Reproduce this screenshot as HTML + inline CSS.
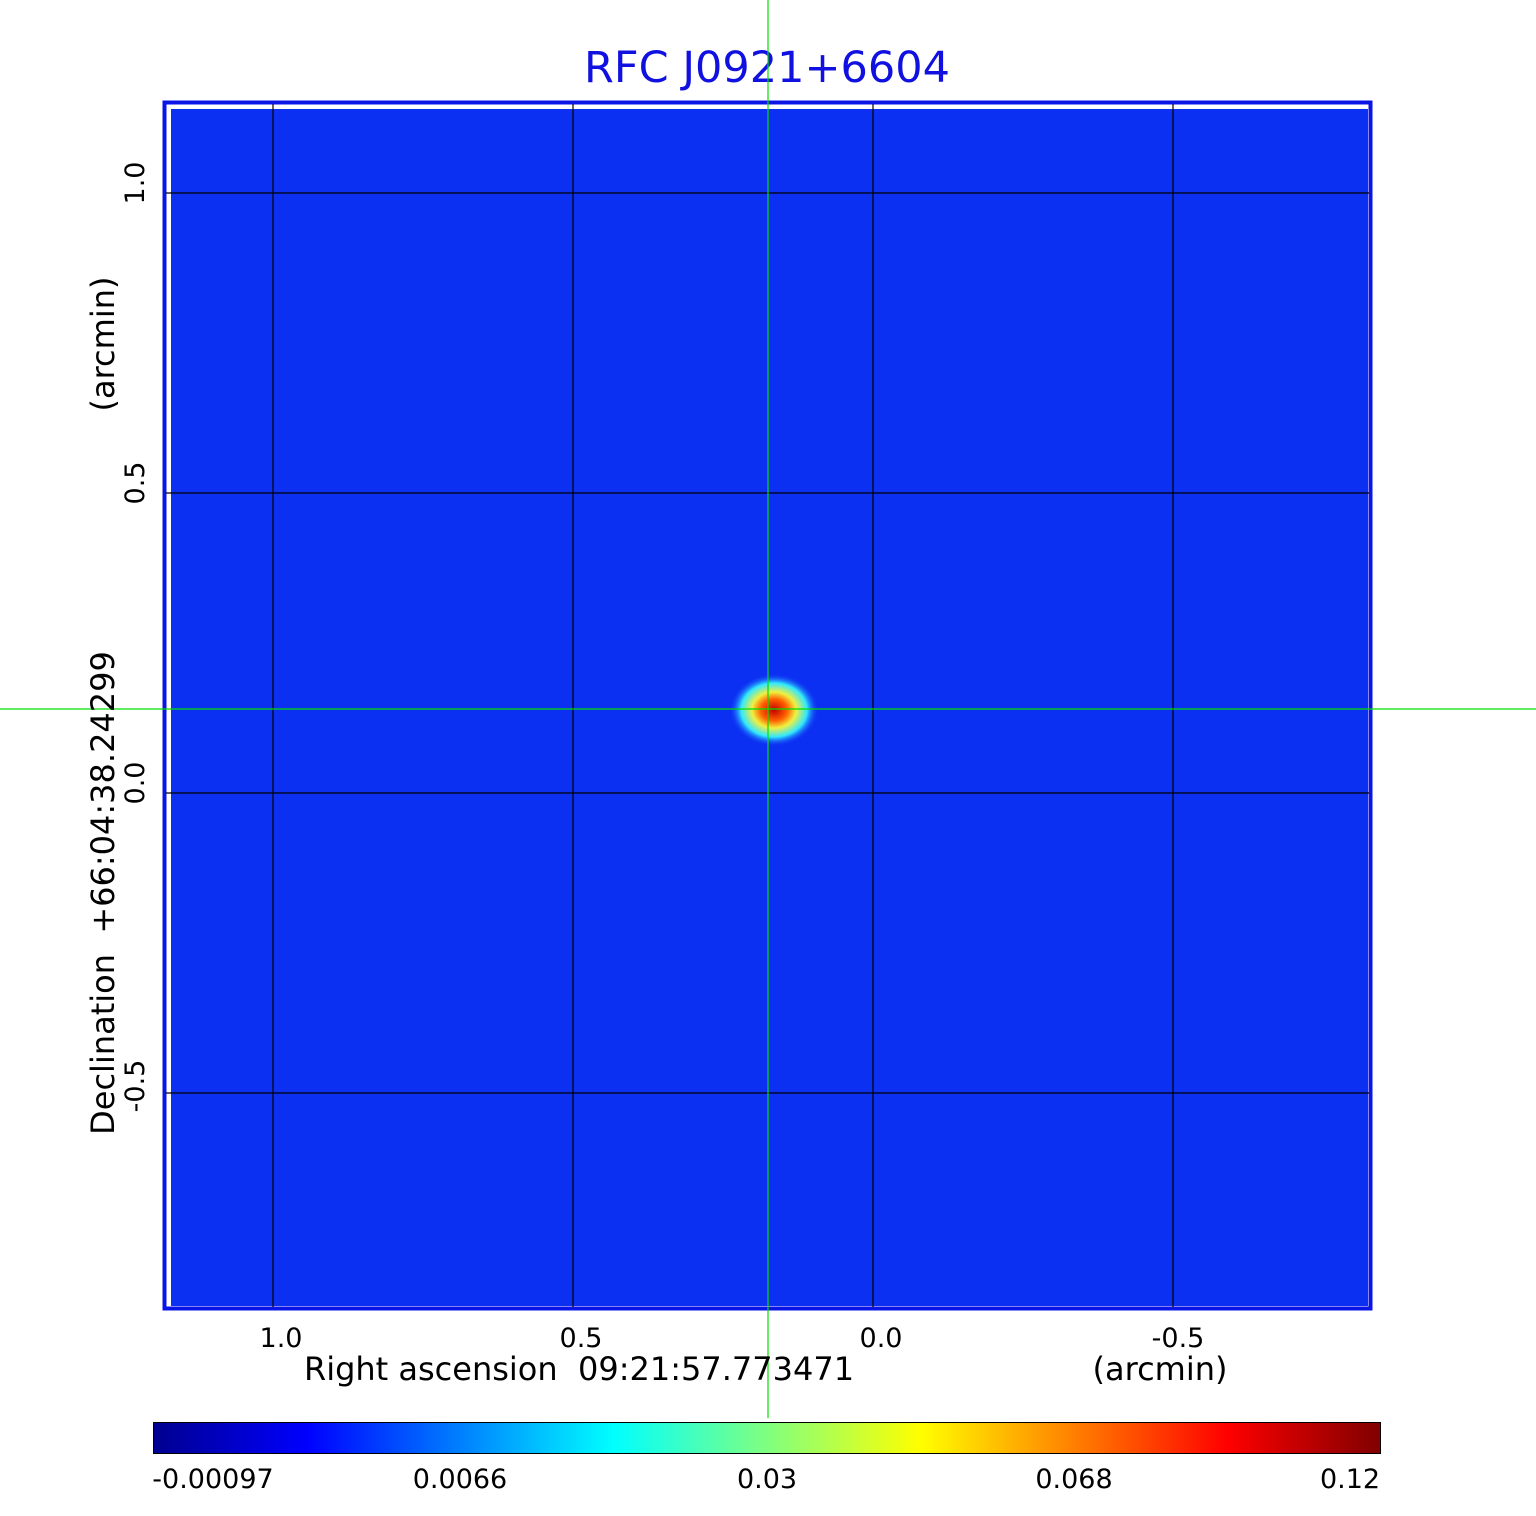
<!DOCTYPE html>
<html><head><meta charset="utf-8"><style>
html,body{margin:0;padding:0;background:#fff;}
svg text{font-family:"DejaVu Sans","Liberation Sans",sans-serif;white-space:pre;}
</style></head><body>
<svg width="1536" height="1511" viewBox="0 0 1536 1511" xmlns="http://www.w3.org/2000/svg" xml:space="preserve">
<defs>
<linearGradient id="jet" x1="0" x2="1" y1="0" y2="0">
<stop offset="0" stop-color="#00008f"/>
<stop offset="0.125" stop-color="#0000ff"/>
<stop offset="0.375" stop-color="#00ffff"/>
<stop offset="0.625" stop-color="#ffff00"/>
<stop offset="0.875" stop-color="#ff0000"/>
<stop offset="1" stop-color="#800000"/>
</linearGradient>
<radialGradient id="src" cx="0.5" cy="0.5" r="0.5">
<stop offset="0" stop-color="#c00000"/>
<stop offset="0.3" stop-color="#ff6000"/>
<stop offset="0.5" stop-color="#f0f040"/>
<stop offset="0.75" stop-color="#30e8ff"/>
<stop offset="1" stop-color="#1040f5" stop-opacity="0"/>
</radialGradient>
</defs>
<text x="767" y="82" font-size="43" fill="#1010e0" text-anchor="middle">RFC J0921+6604</text>
<rect x="164.5" y="102.5" width="1206" height="1206" fill="#fff" stroke="#0a14e6" stroke-width="4"/>
<rect x="171" y="109" width="1197" height="1197" fill="#0c30f2"/>
<ellipse cx="774" cy="710" rx="44" ry="36" fill="url(#src)"/>
<g stroke="#000" stroke-width="1.2">
<line x1="273" y1="104" x2="273" y2="1307"/>
<line x1="573" y1="104" x2="573" y2="1307"/>
<line x1="873" y1="104" x2="873" y2="1307"/>
<line x1="1173" y1="104" x2="1173" y2="1307"/>
<line x1="166" y1="193" x2="1369" y2="193"/>
<line x1="166" y1="493" x2="1369" y2="493"/>
<line x1="166" y1="793" x2="1369" y2="793"/>
<line x1="166" y1="1093" x2="1369" y2="1093"/>
</g>
<g stroke="#00e000" stroke-width="1.2">
<line x1="768" y1="0" x2="768" y2="1418"/>
<line x1="0" y1="709" x2="1536" y2="709"/>
</g>
<g font-size="27" fill="#000" text-anchor="middle">
<text x="281" y="1347">1.0</text>
<text x="581" y="1347">0.5</text>
<text x="881" y="1347">0.0</text>
<text x="1178" y="1347">-0.5</text>
<text x="579" y="1380" font-size="32">Right ascension  09:21:57.773471</text>
<text x="1160" y="1380" font-size="32">(arcmin)</text>
<text transform="translate(144,183) rotate(-90)">1.0</text>
<text transform="translate(144,483) rotate(-90)">0.5</text>
<text transform="translate(144,783) rotate(-90)">0.0</text>
<text transform="translate(144,1086) rotate(-90)">-0.5</text>
<text transform="translate(114,344) rotate(-90)" font-size="32">(arcmin)</text>
<text transform="translate(114,893) rotate(-90)" font-size="32">Declination  +66:04:38.24299</text>
</g>
<rect x="153.5" y="1422.5" width="1227" height="31" fill="url(#jet)" stroke="#000" stroke-width="1"/>
<g font-size="27" fill="#000" text-anchor="middle">
<text x="213" y="1488">-0.00097</text>
<text x="460" y="1488">0.0066</text>
<text x="767" y="1488">0.03</text>
<text x="1074" y="1488">0.068</text>
<text x="1350" y="1488">0.12</text>
</g>
</svg>
</body></html>
